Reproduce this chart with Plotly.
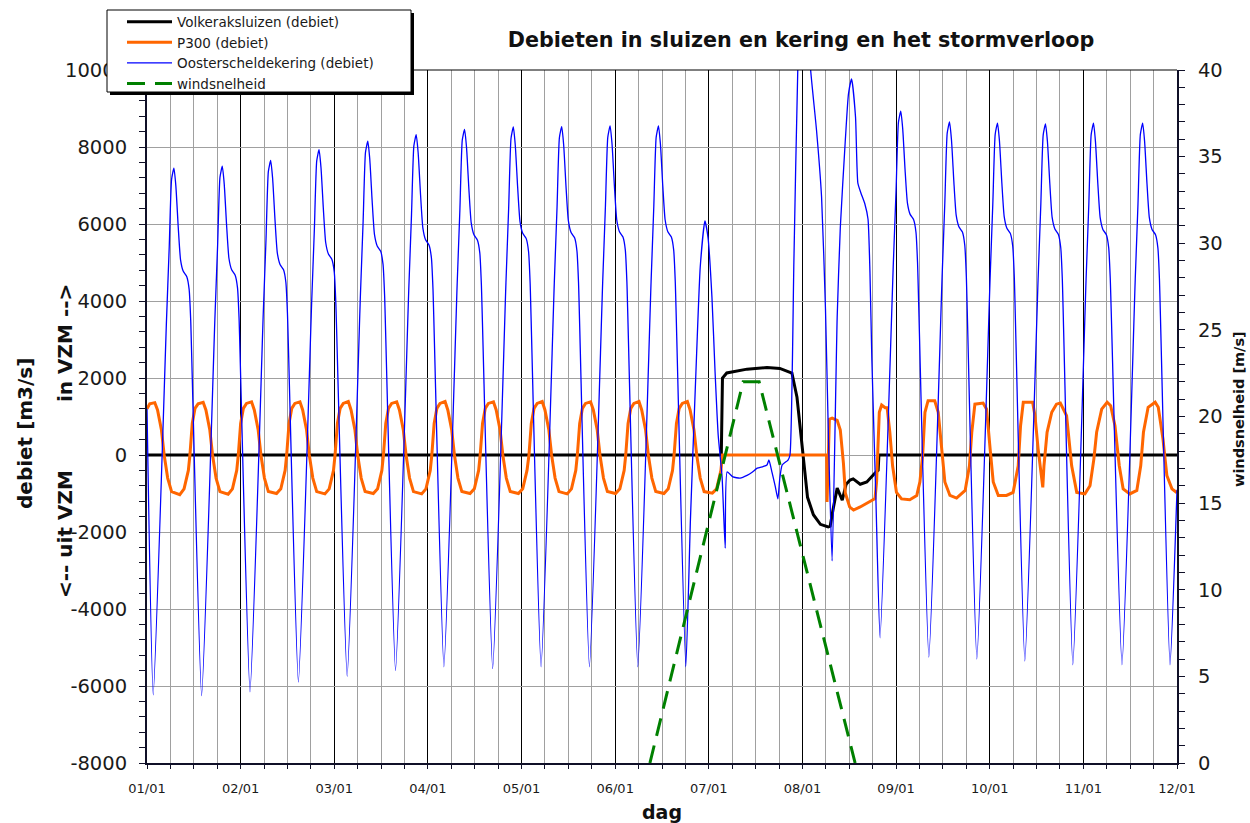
import plotly.graph_objects as go

FONT = "DejaVu Sans"

# ---------------------------------------------------------------------------
# Data (time in hours since 01/01 00:00)
# ---------------------------------------------------------------------------
day_hours = [0, 24, 48, 72, 96, 120, 144, 168, 192, 216, 240, 264]
day_labels = ["01/01", "02/01", "03/01", "04/01", "05/01", "06/01",
              "07/01", "08/01", "09/01", "10/01", "11/01", "12/01"]

q_ticks = [-8000, -6000, -4000, -2000, 0, 2000, 4000, 6000, 8000, 10000]
q_tick_labels = ["-8000", "-6000", "-4000", "-2000", "0", "2000", "4000",
                 "6000", "8000", "10000"]
wind_ticks = [0, 5, 10, 15, 20, 25, 30, 35, 40]
wind_tick_labels = ["0", "5", "10", "15", "20", "25", "30", "35", "40"]

# Volkeraksluizen discharge [m3/s]
t_volkerak = [0.0, 147.2, 147.5, 148.6, 153.8, 158.9, 162.2, 165.3, 166.6,
              167.4, 168.2, 169.3, 170.8, 172.6, 174.6, 175.1, 175.9, 176.9,
              178.2, 179.2, 180.2, 181.0, 182.8, 184.5, 186.6, 187.4, 187.6,
              264.0]
q_volkerak = [0, 0, 2000, 2130, 2230, 2270, 2250, 2130, 1500,
              700, -100, -1100, -1550, -1800, -1870, -1850, -1380, -860,
              -1170, -760, -650, -620, -760, -700, -470, -400, 0,
              0]

# P300 discharge [m3/s]
t_p300 = [
    0.0, 0.7, 2.0, 2.7, 3.7, 4.4, 5.3, 6.3, 8.4, 9.5, 10.6,
    11.0, 11.6, 12.3, 13.1, 14.4, 15.1, 16.1, 16.8, 17.7, 18.7, 20.8, 21.9, 23.0,
    23.4, 24.0, 24.7, 25.5, 26.8, 27.5, 28.5, 29.2, 30.1, 31.1, 33.2, 34.3, 35.4,
    35.8, 36.4, 37.1, 37.9, 39.2, 39.9, 40.9, 41.6, 42.5, 43.5, 45.6, 46.7, 47.8,
    48.2, 48.8, 49.5, 50.3, 51.6, 52.3, 53.3, 54.0, 54.9, 55.9, 58.0, 59.1, 60.2,
    60.6, 61.2, 61.9, 62.7, 64.0, 64.7, 65.7, 66.4, 67.3, 68.3, 70.4, 71.5, 72.6,
    73.0, 73.6, 74.3, 75.1, 76.4, 77.1, 78.1, 78.8, 79.7, 80.7, 82.8, 83.9, 85.0,
    85.4, 86.0, 86.7, 87.5, 88.8, 89.5, 90.5, 91.2, 92.1, 93.1, 95.2, 96.3, 97.4,
    97.9, 98.5, 99.2, 100.0, 101.3, 102.0, 103.0, 103.7, 104.6, 105.6, 107.7, 108.8, 109.9,
    110.3, 110.9, 111.6, 112.4, 113.7, 114.4, 115.4, 116.1, 117.0, 118.0, 120.1, 121.2, 122.3,
    122.7, 123.3, 124.0, 124.8, 126.1, 126.8, 127.8, 128.5, 129.4, 130.4, 132.5, 133.6, 134.7,
    135.1, 135.7, 136.4, 137.2, 138.5, 139.2, 140.2, 140.9, 141.8, 142.8, 144.9, 146.0, 147.1,
    147.5, 174.2,
    174.3, 174.9, 175.6, 176.9, 177.7, 178.5, 179.0, 180.1, 181.1, 182.8, 185.4, 186.6,
    187.0, 187.4, 187.7, 188.3, 189.2, 189.7, 190.4, 191.1, 192.1, 193.4, 195.5, 197.3,
    198.1, 198.8, 199.4, 200.2, 201.9, 202.8, 203.7, 204.5, 205.8, 207.5, 209.7,
    210.8, 211.4, 212.2, 214.3, 215.2, 216.1, 216.9, 218.2, 220.3, 222.0,
    223.3, 223.9, 224.6, 227.0, 227.6, 228.4, 229.3, 229.6, 229.9, 230.7, 231.9,
    233.1, 234.1, 235.7, 237.0, 238.3, 240.4, 241.7, 242.7, 243.4, 244.7, 246.1,
    247.0, 248.1, 249.2, 250.2, 251.9, 253.7, 254.7, 255.4, 256.6, 258.4, 259.2,
    260.4, 261.4, 262.7, 264.0,
]
q_p300 = [
    1200, 1330, 1360, 1170, 650, 0, -600, -950, -1030, -880, -400,
    0, 820, 1210, 1330, 1370, 1170, 650, 0, -600, -950, -1020, -880, -400,
    0, 820, 1210, 1340, 1380, 1170, 650, 0, -600, -950, -1000, -880, -400,
    0, 820, 1210, 1340, 1380, 1170, 650, 0, -600, -950, -1010, -880, -400,
    0, 820, 1210, 1340, 1390, 1170, 650, 0, -600, -950, -1000, -880, -400,
    0, 820, 1210, 1340, 1380, 1170, 650, 0, -600, -950, -1010, -880, -400,
    0, 820, 1210, 1340, 1390, 1170, 650, 0, -600, -950, -1000, -880, -400,
    0, 820, 1210, 1340, 1380, 1170, 650, 0, -600, -950, -1000, -880, -400,
    0, 820, 1210, 1340, 1390, 1170, 650, 0, -600, -950, -1010, -880, -400,
    0, 820, 1210, 1340, 1380, 1170, 650, 0, -600, -950, -1000, -880, -400,
    0, 820, 1210, 1340, 1390, 1170, 650, 0, -600, -950, -1000, -880, -400,
    0, 820, 1210, 1340, 1390, 1170, 650, 0, -600, -950, -990, -880, -400,
    0, 0,
    -1220, 930, 960, 900, 650, -210, -990, -1350, -1430, -1350, -1200, -1130,
    -700, 300, 1110, 1300, 1230, 1230, 590, -280, -970, -1140, -1160, -1050,
    -700, -20, 1110, 1410, 1410, 1110, 160, -700, -1050, -1120, -920,
    -280, 590, 1320, 1350, 1190, 160, -700, -1050, -1050, -970,
    -280, 760, 1370, 1370, 1020, 160, -530, -840, -280, 590, 1110,
    1320, 1350, 1020, -280, -970, -1010, -800, -100, 590, 1190, 1370,
    1280, 760, -280, -880, -1010, -920, -280, 590, 1240, 1370, 1240,
    420, -530, -880, -980,
]

# Oosterscheldekering discharge [m3/s]
t_oosterschelde = [
    0.0,
    1.6, 5.0, 5.7, 6.3, 6.9, 7.4, 8.0, 8.6, 9.3, 10.2, 10.8, 11.2,
    14.0, 17.4, 18.1, 18.7, 19.3, 19.8, 20.4, 21.0, 21.7, 22.6, 23.2, 23.6,
    26.4, 29.8, 30.5, 31.1, 31.7, 32.2, 32.8, 33.4, 34.1, 35.0, 35.6, 36.0,
    38.8, 42.2, 42.9, 43.5, 44.1, 44.6, 45.2, 45.8, 46.5, 47.4, 48.0, 48.4,
    51.3, 54.7, 55.4, 56.0, 56.6, 57.1, 57.7, 58.3, 59.0, 59.9, 60.5, 60.9,
    63.7, 67.1, 67.8, 68.4, 69.0, 69.5, 70.1, 70.7, 71.4, 72.3, 72.9, 73.3,
    76.1, 79.5, 80.2, 80.8, 81.4, 81.9, 82.5, 83.1, 83.8, 84.7, 85.3, 85.7,
    88.6, 92.0, 92.7, 93.3, 93.9, 94.4, 95.0, 95.6, 96.3, 97.2, 97.8, 98.2,
    101.0, 104.4, 105.1, 105.7, 106.3, 106.8, 107.4, 108.0, 108.7, 109.6, 110.2, 110.6,
    113.4, 116.8, 117.5, 118.1, 118.7, 119.2, 119.8, 120.4, 121.1, 122.0, 122.6, 123.0,
    125.8, 129.2, 129.9, 130.5, 131.1, 131.6, 132.2, 132.8, 133.5, 134.4, 135.0, 135.4,
    138.1, 139.3, 140.9, 141.8, 143.0, 143.8, 144.8, 145.6, 146.4, 147.4, 148.2, 148.7,
    150.2, 152.0, 153.8, 155.1, 156.4, 157.9, 158.9, 159.4, 160.2, 161.0, 161.7,
    162.2, 162.8, 164.3, 164.8,
    165.8, 166.8, 167.6, 168.3, 169.2, 170.1, 171.6, 172.9, 173.9, 174.7, 175.6,
    176.9, 177.7, 179.0, 179.8, 180.6, 181.6, 182.2, 183.0, 184.0, 184.8, 185.3,
    185.8, 186.8,
    187.9, 191.3, 192.0, 192.6, 193.2, 193.7, 194.3, 194.9, 195.6, 196.5, 197.1, 197.5,
    200.4, 203.8, 204.5, 205.1, 205.7, 206.2, 206.8, 207.4, 208.1, 209.0, 209.6, 210.0,
    212.7, 216.1, 216.8, 217.4, 218.0, 218.5, 219.1, 219.7, 220.4, 221.3, 221.9, 222.3,
    225.0, 228.4, 229.1, 229.7, 230.3, 230.8, 231.4, 232.0, 232.7, 233.6, 234.2, 234.6,
    237.3, 240.7, 241.4, 242.0, 242.6, 243.1, 243.7, 244.3, 245.0, 245.9, 246.5, 246.9,
    249.9, 253.3, 254.0, 254.6, 255.2, 255.7, 256.3, 256.9, 257.6, 258.5, 259.1, 259.5,
    262.2, 264.0,
]
q_oosterschelde = [
    1200,
    -6230, 3510, 5410, 7160, 7450, 6985, 5930, 5070, 4770, 4630, 4300, 3510,
    -6250, 3540, 5450, 7210, 7500, 7030, 5970, 5110, 4810, 4670, 4340, 3540,
    -6150, 3680, 5590, 7360, 7650, 7180, 6120, 5250, 4950, 4810, 4480, 3680,
    -5900, 3950, 5870, 7640, 7930, 7460, 6400, 5520, 5220, 5080, 4750, 3950,
    -5750, 4150, 6080, 7860, 8150, 7680, 6610, 5730, 5430, 5290, 4950, 4150,
    -5600, 4310, 6250, 8030, 8320, 7850, 6780, 5900, 5590, 5450, 5120, 4310,
    -5500, 4440, 6380, 8170, 8460, 7990, 6910, 6030, 5720, 5580, 5250, 4440,
    -5550, 4470, 6420, 8220, 8520, 8040, 6960, 6070, 5760, 5620, 5280, 4470,
    -5500, 4490, 6440, 8240, 8530, 8050, 6970, 6090, 5780, 5640, 5300, 4490,
    -5500, 4500, 6460, 8250, 8550, 8070, 6990, 6110, 5800, 5660, 5320, 4500,
    -5500, 4500, 6460, 8250, 8550, 8070, 6990, 6110, 5800, 5660, 5320, 4500,
    -5500, -1640, 2700, 4880, 6080, 5640, 4100, 2160, 520, -570, -2420, -440,
    -570, -600, -530, -450, -340, -300, -260, -130, -450, -800, -1140,
    -600, -260, -130, 0,
    5000, 10000, 11800, 12500, 11800, 10000, 8440, 6700, 3800, 300, -2750,
    3580, 5900, 8200, 9380, 9770, 8780, 7060, 6800, 6520, 6130, 4750,
    2440, -1040,
    -4750, 4990, 6890, 8640, 8930, 8470, 7410, 6550, 6250, 6110, 5780, 4990,
    -5250, 4650, 6580, 8360, 8650, 8180, 7110, 6230, 5930, 5790, 5450, 4650,
    -5300, 4610, 6550, 8330, 8620, 8150, 7080, 6200, 5890, 5750, 5420, 4610,
    -5350, 4580, 6520, 8310, 8600, 8130, 7050, 6170, 5870, 5730, 5390, 4580,
    -5450, 4570, 6520, 8320, 8620, 8140, 7060, 6170, 5860, 5720, 5380, 4570,
    -5450, 4570, 6520, 8320, 8620, 8140, 7060, 6170, 5860, 5720, 5380, 4570,
    -5450, -900,
]

# Wind speed [m/s]
t_wind = [128.9, 152.8, 156.9, 181.5]
v_wind = [0, 22, 22, 0]

# ---------------------------------------------------------------------------
# Layout geometry (pixels of the 1250 x 823 page)
# ---------------------------------------------------------------------------
W, H = 1250, 823
PLOT_L, PLOT_R, PLOT_T, PLOT_B = 147, 1177, 70, 763


def px_x(px):
    return (px - PLOT_L) / (PLOT_R - PLOT_L)


def px_y(py):
    return (PLOT_B - py) / (PLOT_B - PLOT_T)


fig = go.Figure()

fig.add_trace(go.Scatter(
    x=t_volkerak, y=q_volkerak, mode="lines", name="Volkeraksluizen (debiet)",
    line=dict(color="#000000", width=3)))
fig.add_trace(go.Scatter(
    x=t_p300, y=q_p300, mode="lines", name="P300 (debiet)",
    line=dict(color="#FF6600", width=3)))
fig.add_trace(go.Scatter(
    x=t_oosterschelde, y=q_oosterschelde, mode="lines",
    name="Oosterscheldekering (debiet)",
    line=dict(color="#0000FF", width=1.3, shape="spline", smoothing=0.5)))
fig.add_trace(go.Scatter(
    x=t_wind, y=v_wind, mode="lines", name="windsnelheid", yaxis="y2",
    line=dict(color="#008000", width=3, dash="18px,10px")))

axis_line = "#101028"

fig.update_layout(
    width=W, height=H,
    margin=dict(l=PLOT_L, r=W - PLOT_R, t=PLOT_T, b=H - PLOT_B, pad=0,
                autoexpand=False),
    paper_bgcolor="white", plot_bgcolor="white",
    font=dict(family=FONT, color="#1a1a1a"),
    showlegend=True,
    title=dict(
        text="<b>Debieten in sluizen en kering en het stormverloop</b>",
        x=px_x(801), xref="paper", xanchor="center",
        y=1 - 40 / H, yref="container", yanchor="middle",
        font=dict(family=FONT, size=20.7, color="#111111")),
    xaxis=dict(
        range=[0, 264], tickmode="array", tickvals=day_hours,
        ticktext=day_labels, showgrid=True, gridcolor="#000000", gridwidth=1,
        ticks="outside", ticklen=4, tickcolor=axis_line, tickwidth=1,
        showline=True, linecolor=axis_line, linewidth=2,
        tickfont=dict(family=FONT, size=13, color="#1a1a1a"),
        ticklabelstandoff=8, zeroline=False, automargin=False,
        minor=dict(tickmode="linear", tick0=0, dtick=6, showgrid=True,
                   gridcolor="#a0a0a0", gridwidth=1, ticks="outside",
                   ticklen=4, tickcolor=axis_line)),
    yaxis=dict(
        range=[-8000, 10000], tickmode="array", tickvals=q_ticks,
        ticktext=q_tick_labels, showgrid=True, gridcolor="#a0a0a0",
        gridwidth=1, ticks="outside", ticklen=6, tickcolor=axis_line,
        showline=True, linecolor=axis_line, linewidth=2, zeroline=False,
        tickfont=dict(family=FONT, size=19.5, color="#1a1a1a"),
        ticklabelstandoff=8, automargin=False,
        minor=dict(tickmode="linear", tick0=0, dtick=400, ticks="outside",
                   ticklen=6, tickcolor=axis_line, showgrid=False)),
    yaxis2=dict(
        range=[0, 40], overlaying="y", side="right", tickmode="array",
        tickvals=wind_ticks, ticktext=wind_tick_labels, showgrid=False,
        ticks="outside", ticklen=6, tickcolor=axis_line, showline=True,
        linecolor=axis_line, linewidth=2, zeroline=False,
        tickfont=dict(family=FONT, size=19.5, color="#1a1a1a"),
        ticklabelstandoff=9, automargin=False,
        minor=dict(tickmode="linear", tick0=0, dtick=1, ticks="outside",
                   ticklen=6, tickcolor=axis_line, showgrid=False)),
    legend=dict(
        x=px_x(122), y=px_y(6.5), xref="paper", yref="paper",
        xanchor="left", yanchor="top", bgcolor="rgba(0,0,0,0)",
        borderwidth=0, itemwidth=45, tracegroupgap=0,
        font=dict(family=FONT, size=13.5, color="#1a1a1a")),
    shapes=[
        # top border of the plot area
        dict(type="line", xref="paper", yref="paper", x0=0, x1=1, y0=1, y1=1,
             line=dict(color="#000000", width=1), layer="above"),
        # legend frame with drop shadow
        dict(type="rect", xref="paper", yref="paper",
             x0=px_x(110), x1=px_x(414), y0=px_y(95), y1=px_y(13),
             fillcolor="#000000", line=dict(width=0), layer="above"),
        dict(type="rect", xref="paper", yref="paper",
             x0=px_x(107), x1=px_x(411), y0=px_y(92), y1=px_y(10),
             fillcolor="#ffffff", line=dict(color="#000000", width=1),
             layer="above"),
    ],
    annotations=[
        dict(text="<b>debiet [m3/s]</b>", xref="paper", yref="paper",
             x=px_x(25), y=px_y(434), textangle=-90, showarrow=False,
             xanchor="center", yanchor="middle",
             font=dict(family=FONT, size=20, color="#111111")),
        dict(text="<b>in VZM --></b>", xref="paper", yref="paper",
             x=px_x(65), y=px_y(343), textangle=-90, showarrow=False,
             xanchor="center", yanchor="middle",
             font=dict(family=FONT, size=20, color="#111111")),
        dict(text="<b>&lt;-- uit VZM</b>", xref="paper", yref="paper",
             x=px_x(65), y=px_y(534), textangle=-90, showarrow=False,
             xanchor="center", yanchor="middle",
             font=dict(family=FONT, size=20, color="#111111")),
        dict(text="<b>windsnelheid [m/s]</b>", xref="paper", yref="paper",
             x=px_x(1239), y=px_y(409), textangle=-90, showarrow=False,
             xanchor="center", yanchor="middle",
             font=dict(family=FONT, size=14.5, color="#111111")),
        dict(text="<b>dag</b>", xref="paper", yref="paper",
             x=px_x(662), y=px_y(812), showarrow=False,
             xanchor="center", yanchor="middle",
             font=dict(family=FONT, size=19, color="#111111")),
    ],
)

fig.write_html("out.html")
